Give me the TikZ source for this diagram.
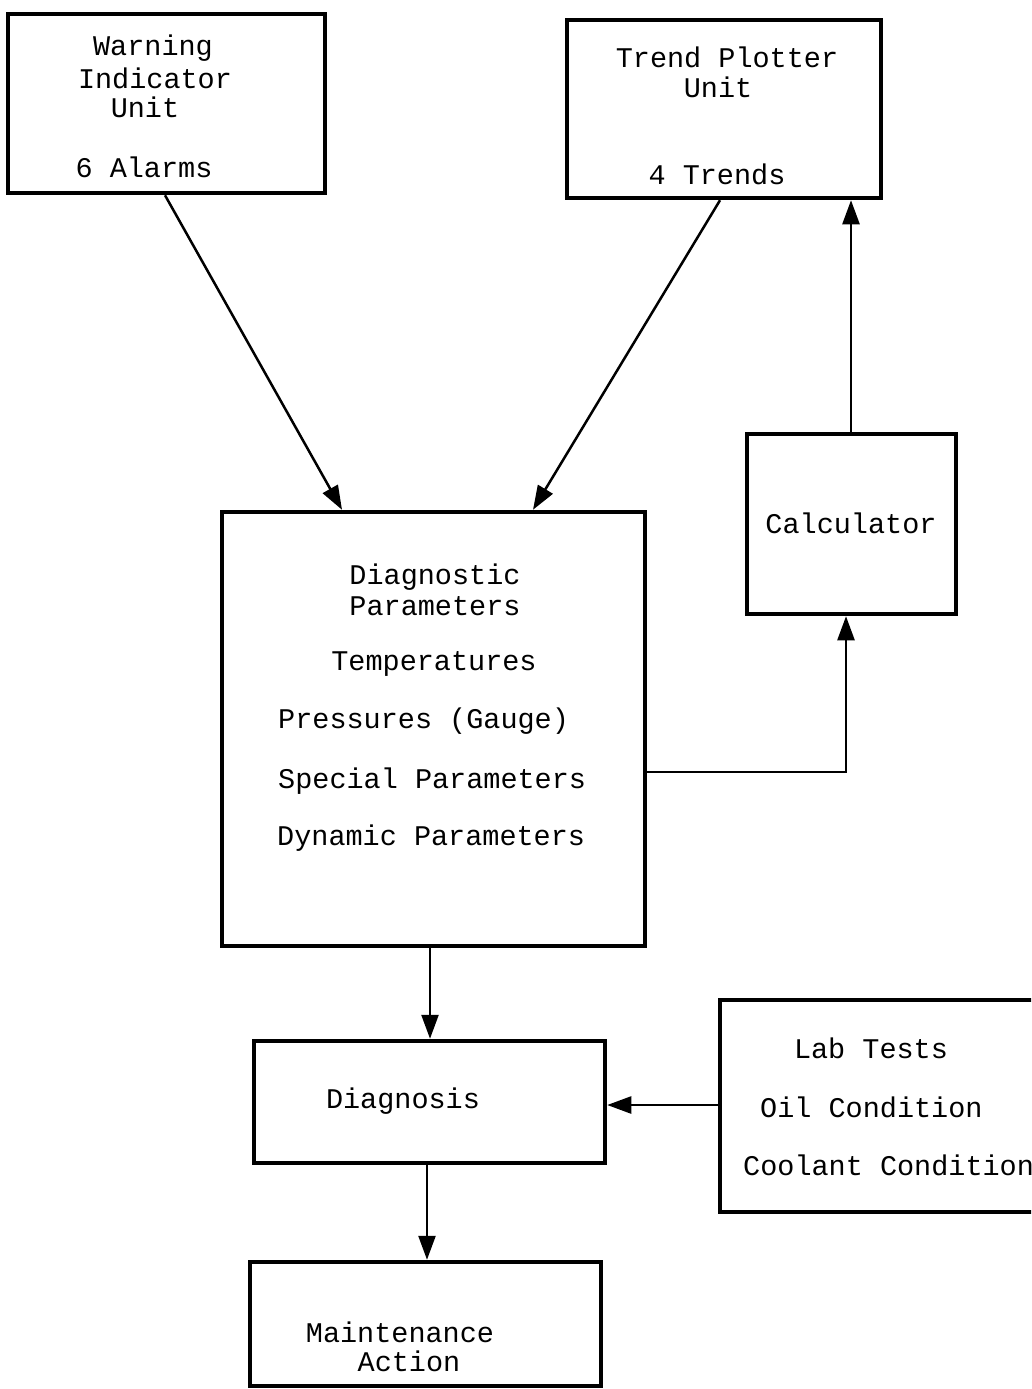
\documentclass[tikz,border=0pt]{standalone}
\usepackage{fontspec}
\setmainfont{Liberation Mono}
\usetikzlibrary{arrows.meta}
\begin{document}
\begin{tikzpicture}[x=1pt,y=-1pt,
  box/.style={draw,line width=4.5pt,rectangle,inner sep=0pt},
  lbl/.style={inner sep=0pt,font=\fontsize{28.5}{29}\selectfont},
  lbll/.style={lbl,anchor=west},
  arr/.style={line width=2.5pt,-{Triangle[length=24pt,width=17pt]}},
  con/.style={line width=2.5pt}]
\clip (0,0) rectangle (1031,1389);
\fill[white] (0,0) rectangle (1031,1389);
% boxes
\node[box,minimum width=317pt,minimum height=179pt] (W) at (166.5,103.5) {};
\node[box,minimum width=314pt,minimum height=178pt] (T) at (724,109) {};
\node[box,minimum width=209pt,minimum height=180pt] (C) at (851.5,524) {};
\node[box,minimum width=423pt,minimum height=434pt] (D) at (433.5,729) {};
\node[box,minimum width=351pt,minimum height=122pt] (Dx) at (429.5,1102) {};
\node[box,minimum width=330pt,minimum height=212pt] (L) at (885,1106) {};
\node[box,minimum width=351pt,minimum height=124pt] (M) at (425.5,1324) {};
% texts
\node[lbl] (w1) at (153,48) {Warning};
\node[lbl] (w2) at (155,78) {Indicator};
\node[lbl] (w3) at (145,107) {Unit};
\node[lbl] (w4) at (144,167) {6 Alarms};
\node[lbl] (t1) at (727,57) {Trend Plotter};
\node[lbl] (t2) at (718,87) {Unit};
\node[lbl] (t3) at (717,174) {4 Trends};
\node[lbl] (c1) at (851,523) {Calculator};
\node[lbl] (d1) at (435,577) {Diagnostic};
\node[lbl] (d2) at (435,606) {Parameters};
\node[lbl] (d3) at (434,664) {Temperatures};
\node[lbll] (d4) at (278,721) {Pressures (Gauge)};
\node[lbll] (d5) at (278,781) {Special Parameters};
\node[lbll] (d6) at (277,838) {Dynamic Parameters};
\node[lbl] (x1) at (403,1101) {Diagnosis};
\node[lbl] (l1) at (871,1048) {Lab Tests};
\node[lbll] (l2) at (760,1107) {Oil Condition};
\node[lbll] (l3) at (743,1165) {Coolant Condition};
\node[lbl] (m1) at (400,1332) {Maintenance};
\node[lbl] (m2) at (409,1361) {Action};
% connectors
\draw[arr] (W.south -| 165,0) -- (D.north -| 342,0);
\draw[arr] (T.south -| 720,0) -- (D.north -| 533,0);
\draw[arr] (C.north -| 851,0) -- (T.south -| 851,0);
\draw[arr] (D.east |- 0,772) -| (C.south -| 846,0);
\draw[arr] (D.south -| 430,0) -- (Dx.north -| 430,0);
\draw[arr] (L.west |- 0,1105) -- (Dx.east |- 0,1105);
\draw[arr] (Dx.south -| 427,0) -- (M.north -| 427,0);
\end{tikzpicture}
\end{document}
